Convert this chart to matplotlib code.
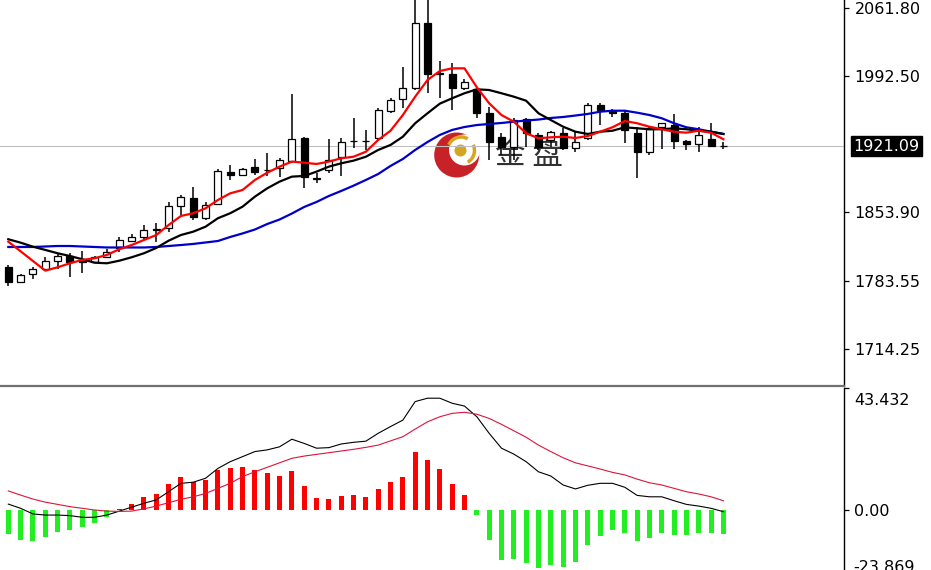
import matplotlib
matplotlib.use('Agg')
import matplotlib.pyplot as plt
from matplotlib.patches import Circle, Arc
import matplotlib.transforms as mtrans
import numpy as np

plt.rcParams['font.family'] = ['DejaVu Sans', 'Noto Sans CJK SC']

# ---------------- data ----------------
opens = [1797.5,1782.2,1790.7,1795.5,1803.9,1809.0,1803.9,1803.2,1808.3,1816.9,
         1824.6,1828.1,1836.0,1837.3,1860.0,1867.8,1847.5,1862.0,1895.0,1891.6,
         1899.4,1896.7,1898.4,1906.2,1929.0,1888.0,1896.7,1910.2,1925.9,1925.9,
         1929.0,1956.8,1968.7,1979.9,2046.8,1995.0,1994.5,1979.9,1978.9,1954.5,
         1930.0,1920.1,1948.3,1932.4,1927.3,1934.1,1918.8,1929.0,1962.9,1957.1,
         1955.1,1934.7,1915.3,1940.2,1942.5,1926.5,1923.2,1928.0,1921.5]
highs = [1799.9,1790.7,1798.3,1808.3,1811.8,1811.6,1814.1,1809.0,1815.9,1828.1,
         1831.5,1840.6,1842.2,1864.4,1871.2,1879.1,1864.4,1897.4,1901.8,1898.4,
         1907.6,1913.7,1908.6,1974.1,1930.6,1893.3,1928.0,1929.0,1949.4,1937.5,
         1959.6,1969.8,2002.0,2072.0,2072.0,2008.1,2005.4,1989.1,1981.0,1961.2,
         1934.4,1949.4,1949.2,1934.7,1936.7,1939.2,1935.7,1965.3,1965.3,1958.5,
         1957.8,1940.2,1940.2,1944.9,1953.8,1927.3,1940.2,1944.3,1925.5]
lows = [1778.8,1781.0,1785.6,1794.3,1795.8,1787.9,1792.0,1801.6,1806.7,1813.4,
        1823.6,1825.3,1823.3,1833.8,1850.8,1845.7,1845.7,1861.0,1886.5,1890.6,
        1891.6,1890.6,1889.3,1905.2,1878.0,1883.1,1893.3,1890.6,1918.8,1917.1,
        1927.3,1955.1,1959.6,1978.2,1975.5,1969.8,1957.8,1978.2,1949.4,1906.9,
        1912.0,1906.9,1920.4,1917.1,1920.4,1917.1,1915.3,1927.3,1942.5,1951.0,
        1923.9,1888.2,1912.0,1917.8,1917.8,1917.1,1915.3,1919.8,1917.8]
closes = [1782.8,1789.7,1795.5,1803.9,1809.0,1803.2,1803.4,1807.5,1813.4,1825.3,
          1828.1,1835.5,1836.6,1860.0,1868.9,1849.1,1861.0,1896.0,1891.6,1897.4,
          1895.0,1896.5,1906.9,1928.0,1889.9,1888.5,1906.9,1925.5,1926.2,1926.2,
          1957.8,1968.0,1979.9,2046.8,1994.5,1995.2,1979.9,1986.7,1954.5,1925.5,
          1920.1,1947.6,1934.1,1920.1,1935.7,1918.8,1925.5,1962.9,1957.8,1955.1,
          1937.5,1915.3,1938.2,1944.3,1926.5,1923.2,1932.4,1921.5,1921.09]

ma_red = [1823.6,1813.8,1803.9,1794.1,1797.5,1801.6,1805.0,1806.7,1810.1,1815.9,
          1820.2,1825.3,1830.4,1840.6,1849.8,1852.6,1857.6,1866.1,1872.9,1876.3,
          1886.5,1893.9,1900.1,1905.2,1904.1,1902.8,1905.2,1908.6,1910.2,1915.3,
          1927.3,1936.7,1952.7,1971.4,1988.4,1997.6,2000.3,2000.3,1981.0,1964.7,
          1952.7,1945.9,1934.1,1929.0,1930.0,1930.6,1929.3,1931.3,1935.7,1940.2,
          1946.6,1944.3,1940.8,1938.2,1935.7,1934.7,1936.7,1934.7,1928.0]
ma_black = [1826.1,1822.6,1818.5,1815.2,1811.8,1809.0,1805.7,1802.2,1801.6,1804.2,
            1807.7,1811.8,1817.2,1824.6,1830.4,1833.8,1838.9,1847.5,1852.6,1859.3,
            1869.5,1878.0,1884.8,1889.9,1890.6,1895.0,1900.1,1903.5,1906.2,1910.2,
            1917.1,1922.2,1930.6,1944.3,1954.5,1964.3,1969.8,1974.9,1978.9,1978.2,
            1974.9,1971.4,1967.3,1954.5,1947.6,1940.8,1935.7,1933.4,1935.7,1936.7,
            1940.2,1939.2,1938.2,1938.2,1939.2,1938.2,1936.7,1935.7,1933.4]
ma_blue = [1818.2,1818.2,1818.2,1818.7,1819.2,1819.2,1818.7,1818.2,1817.7,1817.7,
           1817.7,1817.7,1818.2,1819.2,1820.2,1821.3,1822.8,1824.3,1828.4,1832.0,
           1836.0,1841.6,1846.2,1852.3,1859.0,1864.1,1870.2,1875.3,1880.7,1886.5,
           1892.6,1900.8,1907.9,1917.1,1925.2,1932.4,1937.5,1940.5,1942.5,1943.6,
           1944.6,1945.9,1947.1,1948.1,1949.7,1950.7,1952.2,1953.8,1956.1,1957.1,
           1957.1,1955.1,1952.7,1949.4,1944.3,1940.2,1938.2,1935.7,1933.4]

macd_hist = [-8.7,-10.7,-11.1,-9.5,-7.7,-7.1,-5.9,-4.7,-2.4,0.2,
             2.1,4.5,5.7,9.3,11.9,9.9,10.7,14.2,15.0,15.2,
             14.2,13.1,12.2,13.9,8.5,4.2,3.8,4.9,5.2,4.5,
             7.5,10.1,11.9,20.6,17.8,14.6,9.3,5.5,-1.8,-10.7,
             -17.8,-17.4,-18.8,-20.8,-19.6,-20.4,-18.5,-12.5,-9.1,-7.1,
             -8.1,-11.0,-9.9,-8.1,-8.9,-9.0,-8.1,-8.3,-8.5]
macd_line = [2.1,0.6,-1.4,-1.8,-1.8,-2.0,-2.6,-2.6,-1.8,-0.4,
             1.0,2.4,3.6,6.5,9.5,9.9,11.3,14.8,17.2,19.0,
             20.8,21.4,22.5,25.2,23.7,22.0,22.2,23.5,24.1,24.5,
             27.3,29.7,32.0,38.6,39.8,39.8,38.0,37.0,33.2,27.3,
             22.0,19.9,17.2,13.6,12.1,8.9,7.5,8.8,9.5,9.5,
             8.1,5.2,4.7,4.7,3.3,2.0,1.4,0.6,-0.6]
signal_line = [6.8,5.3,3.9,2.8,2.0,1.2,0.6,0.0,-0.4,-0.5,
               -0.4,0.4,1.4,2.6,3.8,4.7,5.9,7.7,9.5,11.9,
               13.6,15.2,16.8,18.4,19.2,19.8,20.4,21.0,21.6,22.3,
               23.1,24.6,26.1,28.8,31.4,33.2,34.4,34.8,34.1,32.6,
               30.5,28.2,25.9,23.1,20.8,18.6,16.8,15.7,14.6,13.4,
               12.5,11.0,9.7,8.9,7.7,6.5,5.7,4.7,3.3]

price_ticks = [2061.80, 1992.50, 1853.90, 1783.55, 1714.25]
price_labels = ['2061.80', '1992.50', '1853.90', '1783.55', '1714.25']
last_price = 1921.09
macd_ticks = [43.432, 0.0]
macd_labels = ['43.432', '0.00']
macd_min_label = '-23.869'
watermark = '金 盘'

# ---------------- figure ----------------
W, H = 931, 570
fig = plt.figure(figsize=(W / 100, H / 100), dpi=100, facecolor='white')

def rect(x0, y0, x1, y1):
    return [x0 / W, 1 - y1 / H, (x1 - x0) / W, (y1 - y0) / H]

# background watermark layer
bg = fig.add_axes([0, 0, 1, 1], zorder=0)
bg.set_xlim(0, W)
bg.set_ylim(H, 0)
bg.axis('off')
bg.add_patch(Circle((456.7, 155), 22.5, color='#c4161c', alpha=0.95, lw=0))
bg.add_patch(Circle((464.5, 150.0), 15.5, color='white', lw=0))
bg.add_patch(Arc((461, 150.5), 27, 27, theta1=205, theta2=300, color='#d9a520', lw=2.5))
bg.add_patch(Arc((461, 150.5), 27, 27, theta1=335, theta2=60, color='#d9a520', lw=2.5))
bg.add_patch(Circle((460.5, 150.5), 6, color='#d4a520', lw=0))
bg.text(529, 156, watermark, fontsize=22, family=['Noto Sans CJK SC', 'DejaVu Sans'],
        color='#262626', ha='center', va='center', alpha=0.95)

# main price panel
ax = fig.add_axes(rect(0, 0, 844, 386), zorder=1)
ax.patch.set_alpha(0)
x = np.arange(len(opens))
o = np.array(opens); c = np.array(closes)
ax.axhline(last_price, color='#c0c0c0', lw=0.8, zorder=1)
ax.vlines(x, lows, highs, color='black', lw=1.1, zorder=2)
body_bottom = np.minimum(o, c)
body_height = np.abs(c - o)
body_colors = ['white' if cc >= oo else 'black' for oo, cc in zip(o, c)]
ax.bar(x, body_height, bottom=body_bottom, width=0.57, color=body_colors,
       edgecolor='black', linewidth=0.9, zorder=3)
ax.plot(x, ma_blue, color='#0000c8', lw=1.6, zorder=4)
ax.plot(x, ma_black, color='black', lw=1.6, zorder=4)
ax.plot(x, ma_red, color='#ff0000', lw=1.6, zorder=5)

ax.set_xlim(-0.673, 67.78)
ax.set_ylim(1676.5, 2069.95)
ax.set_xticks([])
ax.yaxis.tick_right()
ax.set_yticks(price_ticks)
ax.set_yticklabels(price_labels)
ax.tick_params(axis='y', direction='out', length=3.5, width=0.9, pad=4,
               labelsize=11.5, colors='black')
for s in ['left', 'top']:
    ax.spines[s].set_visible(False)
ax.spines['right'].set_color('black')
ax.spines['right'].set_linewidth(1.0)
ax.spines['bottom'].set_color('#707070')
ax.spines['bottom'].set_linewidth(1.6)

trans = mtrans.blended_transform_factory(ax.transAxes, ax.transData)
ax.text(853 / 844, last_price, f'{last_price:.2f}', transform=trans, ha='left', va='center',
        fontsize=11.5, color='white', clip_on=False, zorder=6,
        bbox=dict(boxstyle='square,pad=0.15', fc='black', ec='black'))

# MACD panel
ax2 = fig.add_axes(rect(0, 388, 844, 570), zorder=1)
ax2.patch.set_alpha(0)
hist_colors = ['#ff0000' if v >= 0 else '#22ee22' for v in macd_hist]
ax2.bar(x, macd_hist, width=0.4, color=hist_colors, zorder=2)
ax2.plot(x, macd_line, color='black', lw=0.8, zorder=3)
ax2.plot(x, signal_line, color='#dc143c', lw=0.8, zorder=3)
ax2.set_xlim(-0.673, 67.78)
ax2.set_ylim(-21.36, 43.432)
ax2.set_xticks([])
ax2.yaxis.tick_right()
ax2.set_yticks(macd_ticks)
ax2.set_yticklabels(macd_labels)
ax2.tick_params(axis='y', direction='out', length=3.5, width=0.9, pad=4,
                labelsize=11.5, colors='black')
lbl = ax2.get_yticklabels()[0]
lbl.set_transform(lbl.get_transform() + mtrans.ScaledTranslation(0, -0.11, fig.dpi_scale_trans))
for s in ['left', 'top', 'bottom']:
    ax2.spines[s].set_visible(False)
ax2.spines['right'].set_color('black')
ax2.spines['right'].set_linewidth(1.0)
fig.text(853 / W, 1 - 567 / H, macd_min_label, ha='left', va='center', fontsize=11.5, color='black')

fig.savefig('out.png', dpi=100, facecolor='white')
